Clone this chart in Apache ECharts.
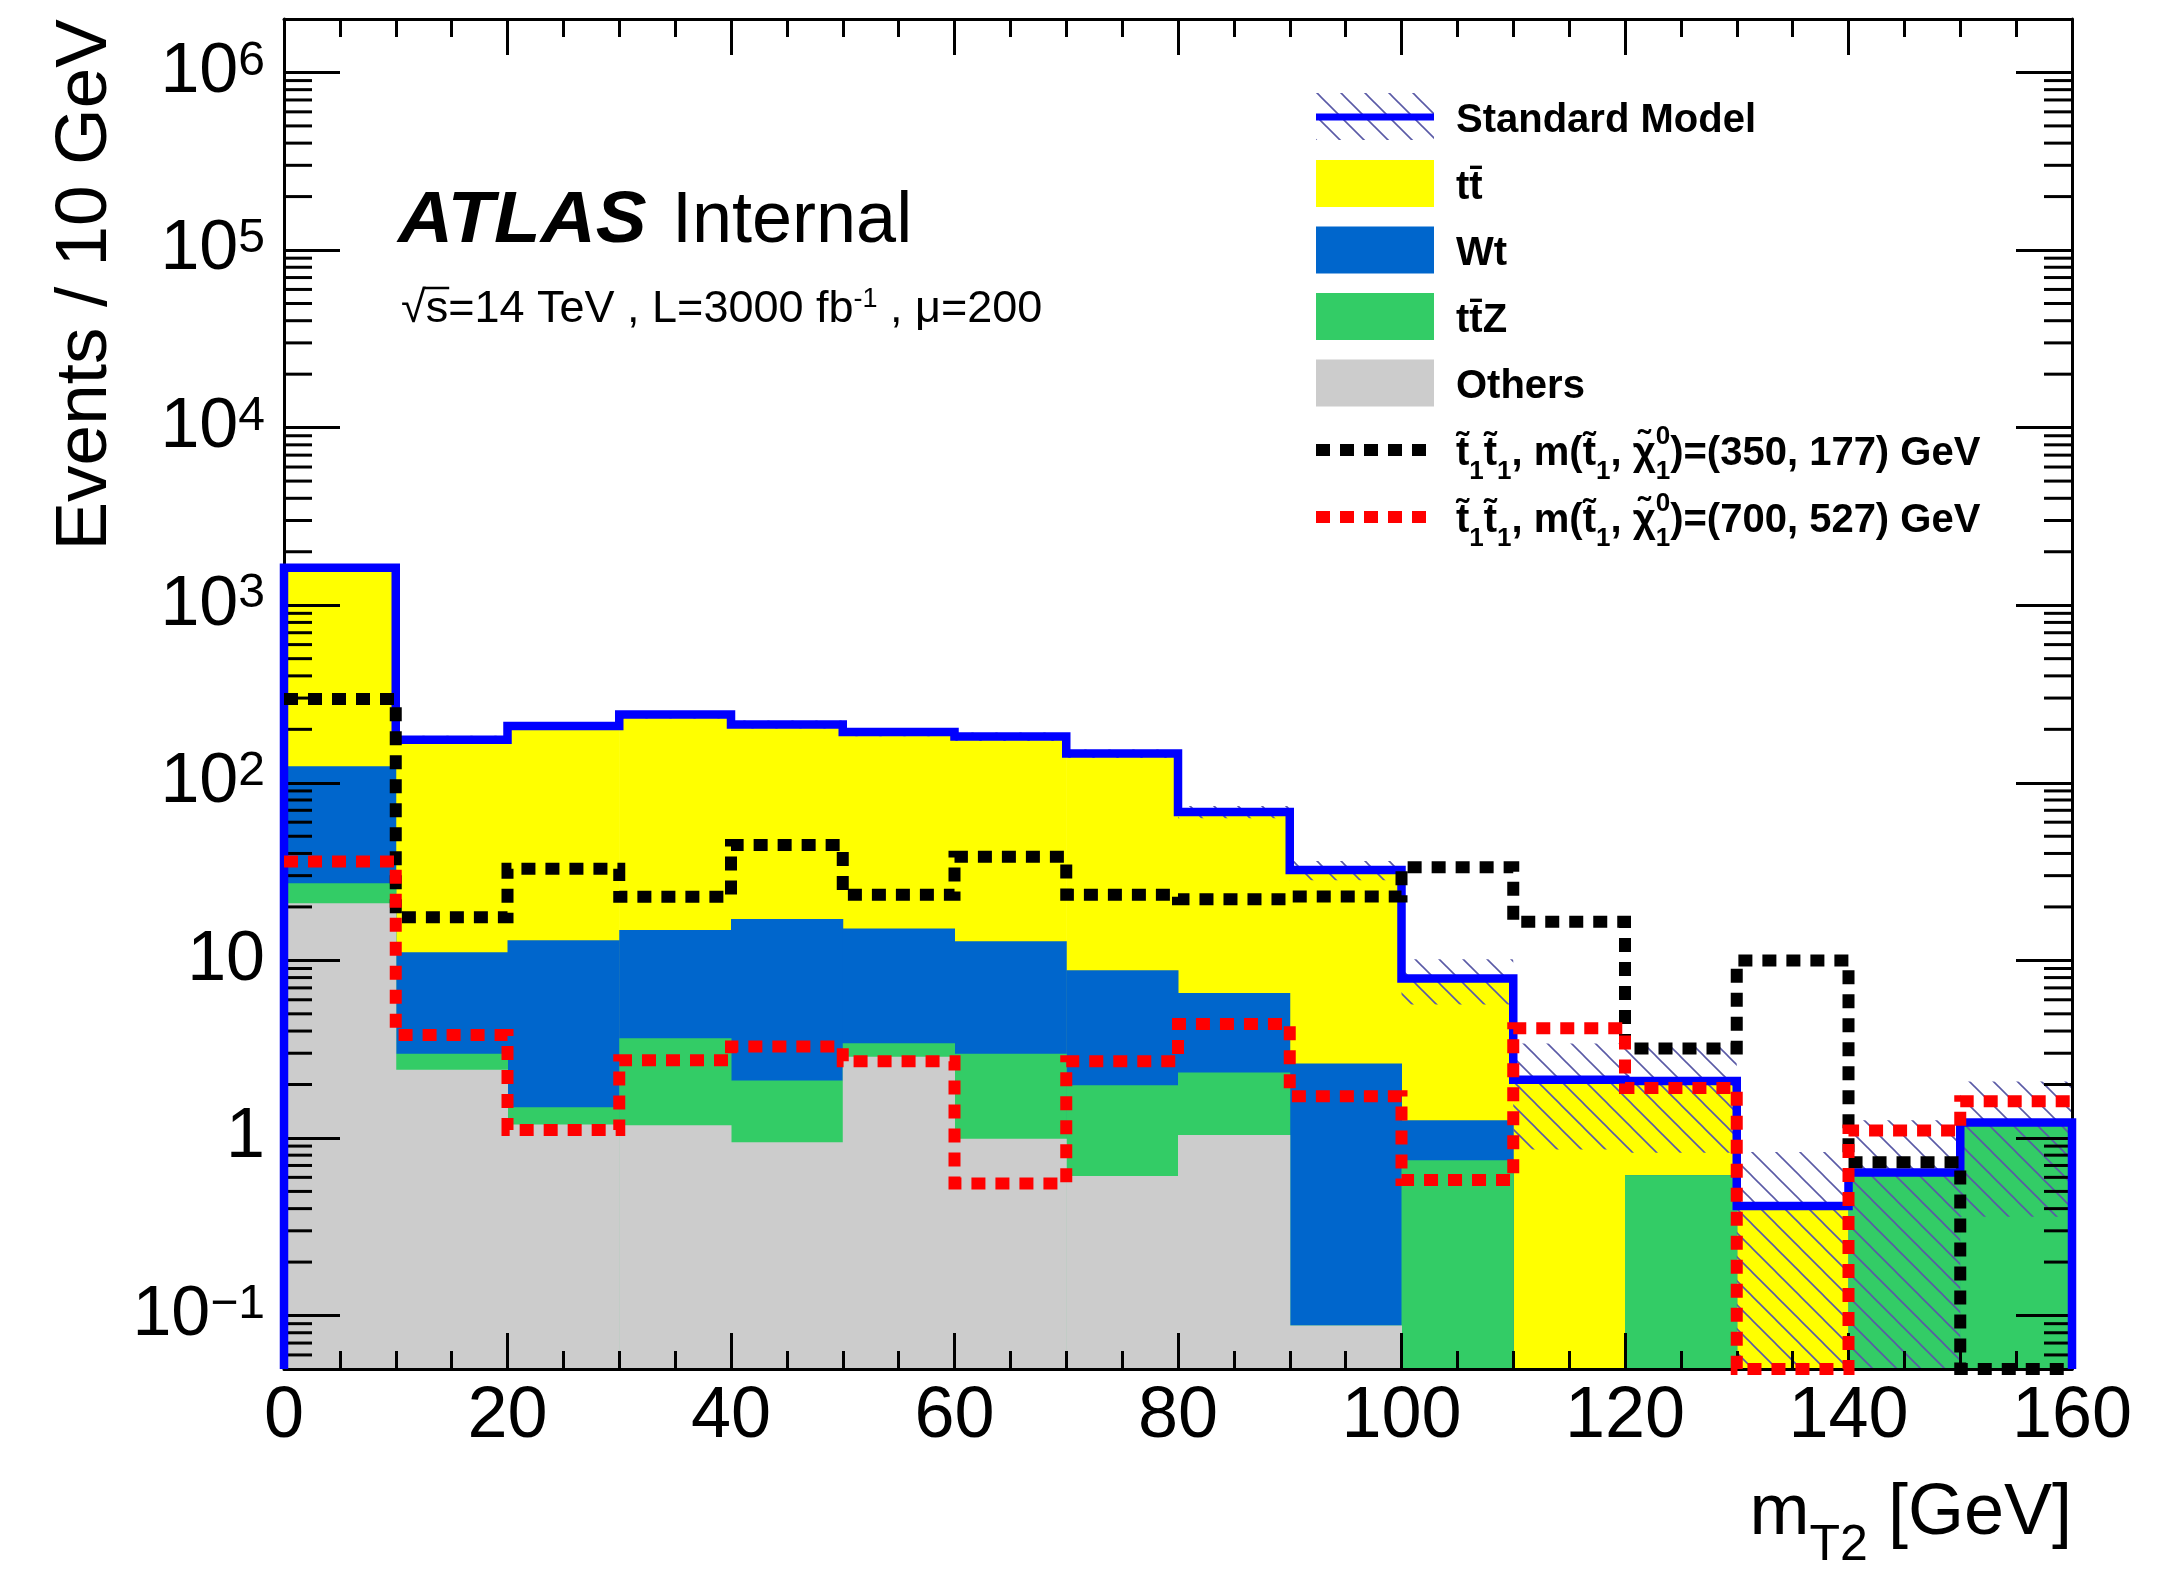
<!DOCTYPE html>
<html>
<head>
<meta charset="utf-8">
<script src="https://cdn.jsdelivr.net/npm/echarts@6/dist/echarts.min.js"></script>
<style>
  html, body { margin: 0; padding: 0; background: #fff; }
  #chart { width: 2178px; height: 1570px; }
</style>
</head>
<body>
<div id="chart"></div>
<script>
// mT2 bins, 10 GeV wide
var binEdges = [0, 10, 20, 30, 40, 50, 60, 70, 80, 90, 100, 110, 120, 130, 140, 150, 160];

// background yields per bin (events / 10 GeV)
var ttbar  = [1501, 163.9, 196, 227.2, 195.9, 177.9, 169.2, 137.2, 62.0, 29.6, 6.64, 2.13, 1.48, 0.414, 0, 0];
var wt     = [96.8, 8.12, 11.5, 11.2, 15.0, 11.7, 9.82, 6.82, 4.22, 2.54, 0.51, 0, 0, 0, 0, 0];
var ttz    = [6.2, 0.56, 0.30, 2.46, 1.16, 0.54, 1.99, 1.37, 1.30, 0, 0.75, 0, 0.616, 0, 0.638, 1.22];
var others = [21, 2.42, 1.19, 1.18, 0.946, 2.87, 0.99, 0.61, 1.04, 0.088, 0, 0, 0, 0, 0, 0];
// uncertainty on the SM total
var smErr  = [50, 9, 10, 12, 11, 10, 10, 8, 5.5, 4, 2.25, 1.27, 1.27, 0.42, 0.62, 0.86];

// signal points
var sig350 = [296, 17.5, 32.8, 22.8, 44.6, 23.4, 38.3, 23.4, 22.1, 22.9, 33.4, 16.5, 3.19, 10.0, 0.73, 0];
var sig700 = [36, 3.8, 1.11, 2.74, 3.27, 2.7, 0.554, 2.7, 4.38, 1.72, 0.58, 4.15, 1.91, 0, 1.10, 1.61];

var xTicks = [0, 20, 40, 60, 80, 100, 120, 140, 160];
var yDecades = [-1, 0, 1, 2, 3, 4, 5, 6];

var Y_MIN = 0.05, Y_MAX = 2e6;
var FONT = '"Liberation Sans", Arial, Helvetica, sans-serif';
var MID = 0.31; // baseline -> middle offset, in em

// ROOT-style stacking: every level is drawn from the bottom
var lvlOthers = others.slice();
var lvlTtz = lvlOthers.map(function (v, i) { return v + ttz[i]; });
var lvlWt = lvlTtz.map(function (v, i) { return v + wt[i]; });
var lvlSm = lvlWt.map(function (v, i) { return v + ttbar[i]; });

function makeHatch() {
  var c = document.createElement('canvas');
  c.width = 24; c.height = 24;
  var g = c.getContext('2d');
  g.strokeStyle = '#5a5aa6';
  g.lineWidth = 1.6;
  [-24, 0, 24].forEach(function (o) {
    g.beginPath(); g.moveTo(-30, -30 + o); g.lineTo(54, 54 + o); g.stroke();
  });
  return c;
}
var hatch = { image: makeHatch(), repeat: 'repeat' };

function fillSeries(name, levels, color) {
  var data = [];
  levels.forEach(function (v, i) { if (v > 0) data.push([binEdges[i], binEdges[i + 1], v]); });
  return {
    type: 'custom', name: name, z: 1, silent: true, clip: true,
    data: data, encode: { x: [0, 1], y: 2 },
    renderItem: function (params, api) {
      var p0 = api.coord([api.value(0), api.value(2)]);
      var p1 = api.coord([api.value(1), Y_MIN]);
      return { type: 'rect', shape: { x: p0[0], y: p0[1], width: p1[0] - p0[0] + 0.5, height: p1[1] - p0[1] },
        style: { fill: color } };
    }
  };
}

function bandSeries() {
  var data = [];
  lvlSm.forEach(function (v, i) { data.push([binEdges[i], binEdges[i + 1], v + smErr[i], Math.max(v - smErr[i], Y_MIN)]); });
  return {
    type: 'custom', name: 'SM unc', z: 1, silent: true, clip: true,
    data: data, encode: { x: [0, 1], y: [2, 3] },
    renderItem: function (params, api) {
      var p0 = api.coord([api.value(0), api.value(2)]);
      var p1 = api.coord([api.value(1), api.value(3)]);
      return { type: 'rect', shape: { x: p0[0], y: p0[1], width: p1[0] - p0[0], height: p1[1] - p0[1] },
        style: { fill: hatch } };
    }
  };
}

// closed = start and end on the bottom of the frame
function stepLine(name, vals, color, width, dash, closed) {
  return {
    type: 'custom', name: name, z: 5, silent: true, clip: false,
    data: [[0, 1]], encode: { x: 0, y: 1 },
    renderItem: function (params, api) {
      var pts = [];
      if (closed) pts.push(api.coord([binEdges[0], Y_MIN]));
      vals.forEach(function (v, i) {
        var y = v > Y_MIN ? v : Y_MIN;
        pts.push(api.coord([binEdges[i], y]));
        pts.push(api.coord([binEdges[i + 1], y]));
      });
      if (closed) pts.push(api.coord([binEdges[binEdges.length - 1], Y_MIN]));
      return { type: 'polyline', shape: { points: pts },
        style: { stroke: color, lineWidth: width, fill: null, lineDash: dash || null, lineCap: 'butt', lineJoin: 'miter' } };
    }
  };
}

// small log ticks (2..9 x 10^n) on both sides
var yMinor = [];
yDecades.concat([-2]).forEach(function (e) {
  for (var k = 2; k <= 9; k++) {
    var v = k * Math.pow(10, e);
    if (v > Y_MIN * 1.01 && v < Y_MAX * 0.99) yMinor.push(v);
  }
});
var minorTickSeries = {
  type: 'custom', name: 'minor', z: 3, silent: true, clip: false,
  data: yMinor.map(function (v) { return [0, v]; }), encode: { x: 0, y: 1 },
  renderItem: function (params, api) {
    var l = api.coord([0, api.value(1)]);
    var r = api.coord([160, api.value(1)]);
    var ls = { stroke: '#000', lineWidth: 3 };
    return { type: 'group', children: [
      { type: 'line', shape: { x1: l[0], y1: l[1], x2: l[0] + 28, y2: l[1] }, style: ls },
      { type: 'line', shape: { x1: r[0], y1: r[1], x2: r[0] - 28, y2: r[1] }, style: ls }
    ] };
  }
};

function xAxisBase(pos, labels) {
  return {
    type: 'value', position: pos, min: 0, max: 160, interval: 20, z: 3,
    axisLine: { show: true, onZero: false, lineStyle: { color: '#000', width: 3 } },
    axisTick: { show: true, inside: true, length: 36, lineStyle: { color: '#000', width: 3 } },
    minorTick: { show: true, splitNumber: 4, length: 18, lineStyle: { color: '#000', width: 3 } },
    axisLabel: { show: labels, color: '#000', fontSize: 72, fontFamily: FONT, margin: 12,
      formatter: function (v) { return xTicks.indexOf(v) >= 0 ? String(v) : ''; } },
    splitLine: { show: false }
  };
}

function yAxisBase(pos, labels) {
  return {
    type: 'log', logBase: 10, position: pos, min: Y_MIN, max: Y_MAX, splitNumber: 10, z: 3,
    axisLine: { show: true, onZero: false, lineStyle: { color: '#000', width: 3 } },
    axisTick: { show: true, inside: true, length: 56, lineStyle: { color: '#000', width: 3 } },
    axisLabel: {
      show: labels, showMinLabel: false, showMaxLabel: false, interval: 0, margin: 19, color: '#000',
      formatter: function (v) {
        var e = Math.round(Math.log10(v));
        if (yDecades.indexOf(e) < 0) return '';
        if (e === 0) return '{b|1}';
        if (e === 1) return '{b|10}';
        return '{b|10}{s|' + (e < 0 ? '\u2212' + (-e) : e) + '}';
      },
      rich: {
        b: { fontSize: 70, fontFamily: FONT, color: '#000', lineHeight: 70, padding: [16, 0, 0, 0], verticalAlign: 'bottom' },
        s: { fontSize: 48, fontFamily: FONT, color: '#000', lineHeight: 52, verticalAlign: 'top' }
      }
    },
    splitLine: { show: false }
  };
}

// text with sub/superscripts laid out piece by piece
var mctx = document.createElement('canvas').getContext('2d');
function textW(s, font) { mctx.font = font; return mctx.measureText(s).width; }
function scriptRun(x, base, parts, size, weight, alignRight) {
  var items = [], cx = 0;
  parts.forEach(function (p) {
    var fs = Math.round(size * p[1]);
    var font = weight + ' ' + fs + 'px ' + FONT;
    items.push({ t: p[0], font: font, fs: fs, x: cx, base: base + p[2] * size });
    if (!p[3]) cx += textW(p[0], font);
  });
  var x0 = alignRight ? x - cx : x;
  return items.map(function (it) {
    return { type: 'text', x: x0 + it.x, y: it.base - MID * it.fs, z: 10,
      style: { text: it.t, font: it.font, fill: '#000', align: 'left', verticalAlign: 'middle',
        textAlign: 'left', textVerticalAlign: 'middle' } };
  });
}

var graphics = [];
// ATLAS label
graphics.push({ type: 'text', x: 398, y: 244 - MID * 72, scaleX: 1.06, z: 10,
  style: { text: 'ATLAS', font: 'italic bold 72px ' + FONT, fill: '#000', align: 'left', verticalAlign: 'middle' } });
graphics.push({ type: 'text', x: 672, y: 244 - MID * 72, z: 10,
  style: { text: 'Internal', font: '72px ' + FONT, fill: '#000', align: 'left', verticalAlign: 'middle' } });
graphics = graphics.concat(scriptRun(401, 324, [
  ['\u221as=14 TeV , L=3000 fb', 1, 0], ['-1', 0.6, -0.36], [' , \u03bc=200', 1, 0]
], 45, 'normal', false));
(function () {
  var f = '45px ' + FONT;
  var a = 401 + textW('\u221a', f), b = 401 + textW('\u221as', f);
  graphics.push({ type: 'line', z: 10, shape: { x1: a - 1, y1: 324 - 36, x2: b + 1, y2: 324 - 36 },
    style: { stroke: '#000', lineWidth: 2.5 } });
})();

// axis titles
graphics = graphics.concat(scriptRun(2072, 1536, [['m', 1, 0], ['T2', 0.7, 0.36], [' [GeV]', 1, 0]], 72, 'normal', true));
graphics.push({ type: 'text', x: 112 - 0.3465 * 74, y: 19, rotation: Math.PI / 2, z: 10,
  style: { text: 'Events / 10 GeV', font: '73px ' + FONT, fill: '#000', align: 'right', verticalAlign: 'middle',
    textAlign: 'right', textVerticalAlign: 'middle' } });

// legend
var legRows = [117, 183.5, 250, 316.5, 383, 450, 517];
var legX = 1316, legW = 118, legTx = 1456, legSize = 40;
graphics.push({ type: 'rect', z: 10, shape: { x: legX, y: legRows[0] - 24, width: legW, height: 47 }, style: { fill: hatch } });
graphics.push({ type: 'line', z: 10, shape: { x1: legX, y1: legRows[0], x2: legX + legW, y2: legRows[0] }, style: { stroke: '#0000ff', lineWidth: 7 } });
[['#ffff00', 1], ['#0066cc', 2], ['#33cc66', 3], ['#cccccc', 4]].forEach(function (b) {
  graphics.push({ type: 'rect', z: 10, shape: { x: legX, y: legRows[b[1]] - 23.5, width: legW, height: 47 }, style: { fill: b[0] } });
});
[['#000000', 5], ['#ff0000', 6]].forEach(function (b) {
  graphics.push({ type: 'line', z: 10, shape: { x1: legX, y1: legRows[b[1]], x2: legX + legW, y2: legRows[b[1]] },
    style: { stroke: b[0], lineWidth: 12, lineDash: [14, 10], lineCap: 'butt' } });
});
function legText(row, parts) {
  graphics = graphics.concat(scriptRun(legTx, legRows[row] + 0.36 * legSize + 2, parts, legSize, 'bold', false));
}
legText(0, [['Standard Model', 1, 0]]);
legText(1, [['tt\u0304', 1, 0]]);
legText(2, [['Wt', 1, 0]]);
legText(3, [['tt\u0304Z', 1, 0]]);
legText(4, [['Others', 1, 0]]);
function sigParts(mass) {
  return [['t\u0303', 1, 0], ['1', 0.66, 0.33], ['t\u0303', 1, 0], ['1', 0.66, 0.33], [', m(t\u0303', 1, 0], ['1', 0.66, 0.33],
    [', \u03c7\u0303', 1, 0], ['0', 0.66, -0.53, true], ['1', 0.66, 0.33], [')=(' + mass + ') GeV', 1, 0]];
}
legText(5, sigParts('350, 177'));
legText(6, sigParts('700, 527'));

var chart = echarts.init(document.getElementById('chart'));
chart.setOption({
  animation: false,
  backgroundColor: '#ffffff',
  textStyle: { fontFamily: FONT },
  grid: { left: 284, right: 106, top: 19, bottom: 201 },
  xAxis: [xAxisBase('bottom', true), xAxisBase('top', false)],
  yAxis: [yAxisBase('left', true), yAxisBase('right', false)],
  series: [
    fillSeries('ttbar', lvlSm, '#ffff00'),
    fillSeries('Wt', lvlWt, '#0066cc'),
    fillSeries('ttZ', lvlTtz, '#33cc66'),
    fillSeries('Others', lvlOthers, '#cccccc'),
    bandSeries(),
    minorTickSeries,
    stepLine('Standard Model', lvlSm, '#0000ff', 8.5, null, true),
    stepLine('(350, 177)', sig350, '#000000', 12, [14, 10], false),
    stepLine('(700, 527)', sig700, '#ff0000', 12, [14, 10], false)
  ],
  graphic: { elements: graphics }
});
</script>
</body>
</html>
